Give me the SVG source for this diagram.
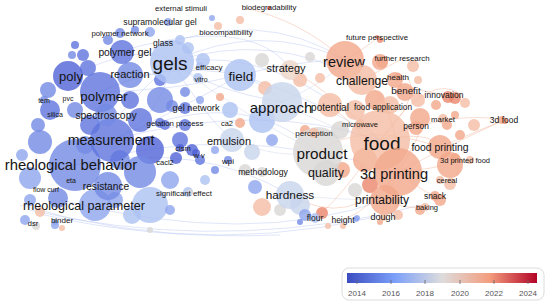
<svg xmlns="http://www.w3.org/2000/svg" width="550" height="305" viewBox="0 0 550 305">
<defs>
<style>
.t{font-family:"Liberation Sans",Arial,sans-serif;fill:#141414;text-anchor:middle;dominant-baseline:central}
.e{fill:none;stroke-width:.8}
.eb{stroke:#a9b8ee;stroke-opacity:.45}
.eg{stroke:#c9d0e4;stroke-opacity:.5}
.er{stroke:#f1a98d;stroke-opacity:.5}
circle{fill-opacity:.8}
.b0{fill:#5063d7}.b1{fill:#5f74dd}.b2{fill:#7389e4}.b3{fill:#8ea5ed}.b4{fill:#adc2f3}
.g0{fill:#c8d4ec}.g1{fill:#dad7d6}.s0{fill:#eed6c8}.s1{fill:#f4bda4}.s2{fill:#f2a88b}.s3{fill:#ea866b}.s4{fill:#dc5a44}
.lg{font-family:"Liberation Sans",Arial,sans-serif;font-size:8px;fill:#555;text-anchor:middle}
</style>
<linearGradient id="cw" x1="0" x2="1" y1="0" y2="0">
<stop offset="0" stop-color="#3b4cc0"/>
<stop offset=".25" stop-color="#7b9ff9"/>
<stop offset=".5" stop-color="#dddcdc"/>
<stop offset=".75" stop-color="#f39d7e"/>
<stop offset="1" stop-color="#b40426"/>
</linearGradient>
</defs>
<rect width="550" height="305" fill="#fff"/>

<g id="connectors">
<path class="e eb" d="M172,62 Q260,20 345,60"/>
<path class="e eb" d="M172,62 Q270,30 362,80"/>
<path class="e eb" d="M172,62 Q280,45 380,140"/>
<path class="e eb" d="M150,50 Q260,5 345,60"/>
<path class="e eb" d="M125,50 Q250,15 290,68"/>
<path class="e eb" d="M100,92 Q220,40 282,102"/>
<path class="e eb" d="M112,140 Q240,80 318,152"/>
<path class="e eb" d="M112,140 Q260,100 380,140"/>
<path class="e eb" d="M75,165 Q230,120 398,172"/>
<path class="e eb" d="M75,165 Q200,140 290,195"/>
<path class="e eb" d="M100,92 Q180,90 240,75"/>
<path class="e eb" d="M68,76 Q150,40 172,62"/>
<path class="e eb" d="M172,62 Q200,110 232,140"/>
<path class="e eb" d="M172,62 Q160,120 112,140"/>
<path class="e eb" d="M172,62 Q130,100 75,165"/>
<path class="e eb" d="M172,62 Q210,90 282,102"/>
<path class="e eb" d="M240,75 Q300,60 345,60"/>
<path class="e eb" d="M240,75 Q320,100 380,140"/>
<path class="e eb" d="M100,92 Q160,60 240,75"/>
<path class="e eb" d="M112,140 Q180,110 240,75"/>
<path class="e eb" d="M30,210 Q200,250 380,215"/>
<path class="e eb" d="M20,205 Q220,265 420,205"/>
<path class="e eb" d="M60,200 Q250,248 385,200"/>
<path class="e eb" d="M40,214 Q150,240 280,235"/>
<path class="e eg" d="M282,102 Q330,80 345,60"/>
<path class="e eg" d="M282,102 Q330,130 380,140"/>
<path class="e eg" d="M232,140 Q280,160 318,152"/>
<path class="e eg" d="M290,195 Q340,200 385,200"/>
<path class="e eg" d="M172,62 Q250,120 318,152"/>
<path class="e er" d="M345,60 Q400,100 398,172"/>
<path class="e er" d="M380,140 Q430,70 462,95"/>
<path class="e er" d="M380,140 Q450,110 504,120"/>
<path class="e er" d="M398,172 Q460,140 504,120"/>
<path class="e er" d="M440,147 Q480,130 504,120"/>
<path class="e er" d="M380,140 Q430,130 440,147"/>
<path class="e er" d="M380,140 Q420,100 408,77"/>
<path class="e er" d="M362,80 Q400,60 404,58"/>
<path class="e er" d="M345,60 Q370,45 378,37"/>
<path class="e er" d="M398,172 Q430,170 465,160"/>
<path class="e er" d="M398,172 Q420,190 435,196"/>
<path class="e er" d="M385,200 Q405,210 427,207"/>
<path class="e er" d="M398,172 Q380,210 383,217"/>
<path class="e er" d="M380,140 Q340,200 315,218"/>
<path class="e er" d="M398,172 Q370,210 343,220"/>
<path class="e er" d="M318,152 Q360,120 440,147"/>
<path class="e er" d="M290,68 Q340,100 380,140"/>
<path class="e er" d="M330,105 Q360,130 398,172"/>
<path class="e er" d="M345,60 Q300,20 245,8"/>
<path class="e er" d="M362,80 Q420,90 445,95"/>
<path class="e er" d="M398,172 Q430,120 416,126"/>
<path class="e er" d="M440,147 Q470,170 450,180"/>
<path class="e er" d="M290,195 Q350,230 398,172"/>
</g>

<g id="bubbles">
<circle class="b4" cx="188" cy="48" r="6"/>
<circle class="b4" cx="198" cy="78" r="5"/>
<circle class="b4" cx="203" cy="60" r="7"/>
<circle class="b3" cx="150" cy="32" r="5"/>
<circle class="b2" cx="135" cy="30" r="4"/>
<circle class="b2" cx="108" cy="40" r="5"/>
<circle class="b1" cx="75" cy="45" r="4"/>
<circle class="b1" cx="83" cy="55" r="6"/>
<circle class="b2" cx="72" cy="55" r="4"/>
<circle class="b1" cx="88" cy="68" r="8"/>
<circle class="b2" cx="48" cy="90" r="8"/>
<circle class="b1" cx="50" cy="110" r="10"/>
<circle class="b2" cx="38" cy="125" r="7"/>
<circle class="b2" cx="40" cy="142" r="12"/>
<circle class="b3" cx="22" cy="155" r="6"/>
<circle class="b3" cx="30" cy="178" r="11"/>
<circle class="b2" cx="58" cy="198" r="10"/>
<circle class="b3" cx="30" cy="200" r="6"/>
<circle class="s1" cx="40" cy="212" r="5"/>
<circle class="b3" cx="25" cy="220" r="5"/>
<circle class="g1" cx="36" cy="226" r="4"/>
<circle class="b3" cx="55" cy="225" r="4"/>
<circle class="s1" cx="62" cy="228" r="3"/>
<circle class="b2" cx="160" cy="100" r="13"/>
<circle class="b1" cx="140" cy="120" r="12"/>
<circle class="b0" cx="150" cy="150" r="14"/>
<circle class="b2" cx="140" cy="172" r="16"/>
<circle class="b3" cx="170" cy="180" r="9"/>
<circle class="b4" cx="150" cy="205" r="18"/>
<circle class="b4" cx="132" cy="215" r="9"/>
<circle class="b3" cx="170" cy="210" r="5"/>
<circle class="b1" cx="180" cy="140" r="8"/>
<circle class="b0" cx="176" cy="158" r="6"/>
<circle class="b0" cx="192" cy="150" r="6"/>
<circle class="b1" cx="200" cy="160" r="5"/>
<circle class="b1" cx="185" cy="125" r="6"/>
<circle class="b1" cx="165" cy="125" r="5"/>
<circle class="b2" cx="172" cy="106" r="6"/>
<circle class="b1" cx="160" cy="80" r="6"/>
<circle class="b2" cx="185" cy="92" r="5"/>
<circle class="b3" cx="200" cy="100" r="4"/>
<circle class="b4" cx="205" cy="180" r="5"/>
<circle class="b3" cx="215" cy="150" r="4"/>
<circle class="b2" cx="215" cy="170" r="4"/>
<circle class="b4" cx="188" cy="192" r="5"/>
<circle class="g1" cx="150" cy="230" r="3"/>
<circle class="b2" cx="120" cy="160" r="10"/>
<circle class="b1" cx="90" cy="125" r="10"/>
<circle class="b2" cx="75" cy="110" r="8"/>
<circle class="b1" cx="130" cy="100" r="9"/>
<circle class="b2" cx="85" cy="145" r="9"/>
<circle class="b3" cx="115" cy="200" r="8"/>
<circle class="s2" cx="220" cy="97" r="4"/>
<circle class="b4" cx="230" cy="110" r="8"/>
<circle class="b4" cx="262" cy="120" r="13"/>
<circle class="g0" cx="252" cy="152" r="8"/>
<circle class="g1" cx="245" cy="170" r="6"/>
<circle class="b3" cx="255" cy="187" r="7"/>
<circle class="s2" cx="240" cy="123" r="5"/>
<circle class="s1" cx="265" cy="88" r="7"/>
<circle class="g1" cx="262" cy="60" r="7"/>
<circle class="s1" cx="300" cy="80" r="7"/>
<circle class="s1" cx="320" cy="78" r="5"/>
<circle class="g1" cx="310" cy="57" r="5"/>
<circle class="s2" cx="305" cy="130" r="5"/>
<circle class="g0" cx="300" cy="205" r="10"/>
<circle class="b3" cx="305" cy="215" r="6"/>
<circle class="s3" cx="322" cy="213" r="6"/>
<circle class="b2" cx="300" cy="222" r="3"/>
<circle class="s1" cx="328" cy="226" r="3"/>
<circle class="b3" cx="357" cy="218" r="3"/>
<circle class="s1" cx="343" cy="226" r="3"/>
<circle class="g1" cx="280" cy="210" r="6"/>
<circle class="s1" cx="262" cy="207" r="9"/>
<circle class="b3" cx="272" cy="140" r="6"/>
<circle class="g1" cx="340" cy="130" r="9"/>
<circle class="s1" cx="355" cy="110" r="10"/>
<circle class="s2" cx="375" cy="100" r="10"/>
<circle class="s2" cx="395" cy="80" r="8"/>
<circle class="s2" cx="380" cy="62" r="8"/>
<circle class="s1" cx="390" cy="105" r="9"/>
<circle class="s2" cx="420" cy="118" r="10"/>
<circle class="s1" cx="418" cy="100" r="7"/>
<circle class="s2" cx="436" cy="105" r="5"/>
<circle class="s3" cx="455" cy="98" r="6"/>
<circle class="s1" cx="465" cy="103" r="5"/>
<circle class="s2" cx="447" cy="125" r="5"/>
<circle class="s2" cx="455" cy="115" r="4"/>
<circle class="s2" cx="460" cy="135" r="5"/>
<circle class="s1" cx="474" cy="125" r="6"/>
<circle class="s2" cx="450" cy="165" r="13"/>
<circle class="s1" cx="470" cy="160" r="4"/>
<circle class="s1" cx="450" cy="184" r="6"/>
<circle class="s2" cx="440" cy="200" r="6"/>
<circle class="s2" cx="420" cy="210" r="5"/>
<circle class="s3" cx="505" cy="121" r="3"/>
<circle class="s1" cx="413" cy="66" r="6"/>
<circle class="s1" cx="418" cy="80" r="4"/>
<circle class="s3" cx="380" cy="40" r="3"/>
<circle class="s2" cx="342" cy="170" r="8"/>
<circle class="s3" cx="370" cy="185" r="8"/>
<circle class="s2" cx="365" cy="160" r="12"/>
<circle class="g1" cx="355" cy="190" r="7"/>
<circle class="s2" cx="380" cy="222" r="3"/>
<circle class="s1" cx="398" cy="215" r="5"/>
<circle class="s1" cx="240" cy="20" r="4"/>
<circle class="s4" cx="269" cy="8" r="2"/>
</g>

<g id="n-rheological-parameter"><circle class="b3" cx="95" cy="205" r="16"/><text class="t" x="84" y="206" font-size="12.6">rheological parameter</text></g>
<g id="n-rheological-behavior"><circle class="b2" cx="75" cy="165" r="26"/><text class="t" x="71" y="165" font-size="14.8">rheological behavior</text></g>
<g id="n-measurement"><circle class="b1" cx="112" cy="140" r="22"/><text class="t" x="111" y="140" font-size="14.2">measurement</text></g>
<g id="n-polymer"><circle class="b1" cx="100" cy="92" r="20"/><text class="t" x="104" y="96" font-size="13.3">polymer</text></g>
<g id="n-poly"><circle class="b0" cx="68" cy="76" r="15"/><text class="t" x="71" y="76" font-size="13">poly</text></g>
<g id="n-reaction"><circle class="b2" cx="130" cy="75" r="13"/><text class="t" x="130" y="74" font-size="11">reaction</text></g>
<g id="n-polymer-gel"><circle class="b1" cx="122" cy="52" r="12"/><text class="t" x="125" y="52" font-size="10.3">polymer gel</text></g>
<g id="n-spectroscopy"><circle class="b2" cx="106" cy="115" r="11"/><text class="t" x="106" y="115" font-size="10.4">spectroscopy</text></g>
<g id="n-resistance"><circle class="b2" cx="108" cy="186" r="14"/><text class="t" x="106" y="186" font-size="10.2">resistance</text></g>
<g id="n-gels"><circle class="b4" cx="172" cy="62" r="22"/><text class="t" x="170" y="63" font-size="19">gels</text></g>
<g id="n-field"><circle class="b4" cx="240" cy="75" r="16"/><text class="t" x="241" y="76" font-size="13.5">field</text></g>
<g id="n-approach"><circle class="g0" cx="282" cy="102" r="20"/><text class="t" x="281" y="107" font-size="15">approach</text></g>
<g id="n-emulsion"><circle class="g0" cx="232" cy="140" r="12"/><text class="t" x="229" y="141" font-size="11">emulsion</text></g>
<g id="n-hardness"><circle class="g0" cx="290" cy="195" r="14"/><text class="t" x="290" y="195" font-size="11.8">hardness</text></g>
<g id="n-product"><circle class="g1" cx="318" cy="152" r="25"/><text class="t" x="322" y="153" font-size="15.3">product</text></g>
<g id="n-quality"><circle class="g1" cx="326" cy="173" r="13"/><text class="t" x="326" y="173" font-size="12.4">quality</text></g>
<g id="n-strategy"><circle class="s0" cx="290" cy="70" r="10"/><text class="t" x="286" y="68" font-size="11">strategy</text></g>
<g id="n-potential"><circle class="s1" cx="330" cy="105" r="12"/><text class="t" x="330" y="107" font-size="10">potential</text></g>
<g id="n-food"><circle class="s1" cx="380" cy="140" r="30"/><text class="t" x="382" y="143" font-size="19">food</text></g>
<g id="n-review"><circle class="s2" cx="345" cy="60" r="19"/><text class="t" x="344" y="62" font-size="14.5">review</text></g>
<g id="n-challenge"><circle class="s1" cx="362" cy="80" r="15"/><text class="t" x="362" y="81" font-size="12.2">challenge</text></g>
<g id="n-3d-printing"><circle class="s2" cx="398" cy="172" r="24"/><text class="t" x="394" y="174" font-size="14.6">3d printing</text></g>
<g id="n-printability"><circle class="s2" cx="385" cy="200" r="15"/><text class="t" x="382" y="200" font-size="12">printability</text></g>
<g id="n-food-printing"><circle class="s2" cx="440" cy="147" r="12"/><text class="t" x="440" y="147" font-size="10.4">food printing</text></g>
<g id="n-benefit"><circle class="s2" cx="405" cy="92" r="9"/><text class="t" x="406" y="90" font-size="9.8">benefit</text></g>
<g id="n-innovation"><circle class="s3" cx="448" cy="97" r="6"/><text class="t" x="444" y="95" font-size="8.5">innovation</text></g>
<g id="n-person"><circle class="s2" cx="416" cy="128" r="7"/><text class="t" x="416" y="126" font-size="8.4">person</text></g>
<g id="n-market"><circle class="s1" cx="443" cy="119" r="5"/><text class="t" x="443" y="119" font-size="7.8">market</text></g>
<g id="n-3d-food"><circle class="s2" cx="502" cy="120" r="4"/><text class="t" x="504" y="120" font-size="8.5">3d food</text></g>
<g id="n-3d-printed-food"><circle class="s2" cx="455" cy="158" r="5"/><text class="t" x="465" y="160" font-size="7.5">3d printed food</text></g>
<g id="n-cereal"><circle class="s1" cx="440" cy="180" r="4"/><text class="t" x="447" y="180" font-size="7.5">cereal</text></g>
<g id="n-snack"><circle class="s2" cx="435" cy="196" r="5"/><text class="t" x="435" y="196" font-size="8.5">snack</text></g>
<g id="n-baking"><circle class="s1" cx="425" cy="207" r="4"/><text class="t" x="427" y="207" font-size="7.5">baking</text></g>
<g id="n-dough"><circle class="s1" cx="383" cy="217" r="4"/><text class="t" x="383" y="217" font-size="9">dough</text></g>
<g id="n-height"><circle class="b3" cx="356" cy="219" r="3"/><text class="t" x="343" y="220" font-size="8.5">height</text></g>
<g id="n-flour"><circle class="b4" cx="315" cy="218" r="5"/><text class="t" x="315" y="218" font-size="8.5">flour</text></g>
<g id="n-microwave"><circle class="s1" cx="360" cy="124" r="5"/><text class="t" x="360" y="124" font-size="7.5">microwave</text></g>
<g id="n-perception"><circle class="s1" cx="314" cy="133" r="5"/><text class="t" x="314" y="133" font-size="8">perception</text></g>
<g id="n-food-application"><circle class="s1" cx="383" cy="107" r="6"/><text class="t" x="383" y="107" font-size="8.3">food application</text></g>
<g id="n-health"><circle class="s2" cx="398" cy="77" r="4"/><text class="t" x="398" y="77" font-size="8">health</text></g>
<g id="n-further-research"><circle class="s2" cx="382" cy="62" r="6"/><text class="t" x="402" y="58" font-size="7.8">further research</text></g>
<g id="n-future-perspective"><circle class="s3" cx="377" cy="37" r="2"/><text class="t" x="377" y="37" font-size="7.8">future perspective</text></g>
<g id="n-biodegradability"><text class="t" x="269" y="7" font-size="7.8">biodegradability</text></g>
<g id="n-biocompatibility"><circle class="s1" cx="218" cy="26" r="4"/><text class="t" x="226" y="32" font-size="7.8">biocompatibility</text></g>
<g id="n-external-stimuli"><circle class="b3" cx="212" cy="18" r="3"/><text class="t" x="181" y="8" font-size="7.8">external stimuli</text></g>
<g id="n-supramolecular-gel"><circle class="b3" cx="168" cy="22" r="4"/><text class="t" x="160" y="22" font-size="8.7">supramolecular gel</text></g>
<g id="n-polymer-network"><circle class="b2" cx="120" cy="33" r="5"/><text class="t" x="120" y="33" font-size="7.8">polymer network</text></g>
<g id="n-glass"><circle class="b4" cx="180" cy="40" r="5"/><text class="t" x="163" y="43" font-size="8.5">glass</text></g>
<g id="n-efficacy"><circle class="b4" cx="200" cy="66" r="4"/><text class="t" x="209" y="67" font-size="8">efficacy</text></g>
<g id="n-vitro"><text class="t" x="201" y="79" font-size="7">vitro</text></g>
<g id="n-gel-network"><circle class="b1" cx="185" cy="108" r="6"/><text class="t" x="196" y="108" font-size="9.2">gel network</text></g>
<g id="n-gelation-process"><circle class="b1" cx="160" cy="123" r="5"/><text class="t" x="175" y="123" font-size="7.8">gelation process</text></g>
<g id="n-ca2"><text class="t" x="227" y="123" font-size="7.5">ca2</text></g>
<g id="n-cism"><circle class="b0" cx="180" cy="148" r="4"/><text class="t" x="183" y="148" font-size="7.5">cism</text></g>
<g id="n-w-v"><circle class="b0" cx="196" cy="153" r="4"/><text class="t" x="199" y="155" font-size="7.5">w v</text></g>
<g id="n-cacl2"><text class="t" x="165" y="162" font-size="7.5">cacl2</text></g>
<g id="n-wpi"><circle class="b2" cx="228" cy="160" r="4"/><text class="t" x="228" y="161" font-size="8">wpi</text></g>
<g id="n-methodology"><circle class="g1" cx="262" cy="172" r="5"/><text class="t" x="263" y="172" font-size="8.7">methodology</text></g>
<g id="n-significant-effect"><circle class="g1" cx="190" cy="192" r="3"/><text class="t" x="184" y="193" font-size="7.8">significant effect</text></g>
<g id="n-silica"><circle class="b2" cx="55" cy="114" r="4"/><text class="t" x="55" y="114" font-size="7">silica</text></g>
<g id="n-tem"><circle class="b2" cx="44" cy="100" r="4"/><text class="t" x="44" y="100" font-size="7">tem</text></g>
<g id="n-pvc"><text class="t" x="68" y="98" font-size="7">pvc</text></g>
<g id="n-eta"><text class="t" x="71" y="180" font-size="7">eta</text></g>
<g id="n-flow-curf"><text class="t" x="46" y="189" font-size="7">flow curf</text></g>
<g id="n-binder"><circle class="b3" cx="55" cy="222" r="3"/><text class="t" x="62" y="220" font-size="8">binder</text></g>
<g id="n-dsr"><text class="t" x="33" y="223" font-size="7.5">dsr</text></g>

<g id="legend">
<rect x="342" y="268" width="202" height="32" rx="7" fill="#fff" stroke="#dcdcdc"/>
<rect x="347" y="273" width="190" height="10" fill="url(#cw)"/>
<g stroke="#666" stroke-width=".8">
<line x1="357" y1="280" x2="357" y2="284"/><line x1="391" y1="280" x2="391" y2="284"/><line x1="425" y1="280" x2="425" y2="284"/><line x1="460" y1="280" x2="460" y2="284"/><line x1="494" y1="280" x2="494" y2="284"/><line x1="528" y1="280" x2="528" y2="284"/>
</g>
<text class="lg" x="357" y="296">2014</text><text class="lg" x="391" y="296">2016</text><text class="lg" x="425" y="296">2018</text><text class="lg" x="460" y="296">2020</text><text class="lg" x="494" y="296">2022</text><text class="lg" x="528" y="296">2024</text>
</g>
</svg>
